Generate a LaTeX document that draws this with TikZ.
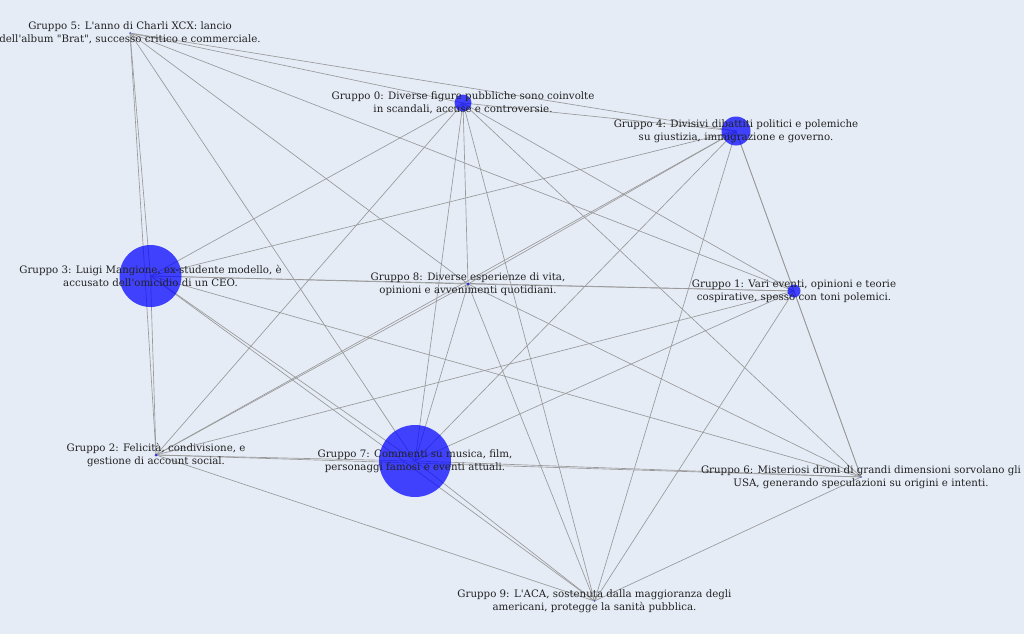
\documentclass[tikz,border=0pt]{standalone}
\usepackage{fontspec}
\setmainfont{DejaVu Serif}[Ligatures=TeXOff]
\definecolor{bgc}{HTML}{E5ECF6}
\definecolor{edgec}{HTML}{999999}
\definecolor{dotc}{HTML}{0000FF}
\definecolor{txtc}{HTML}{222222}
\tikzset{
  edge/.style={draw=edgec, line width=0.65pt},
  dot/.style={circle, fill=dotc, fill opacity=0.72, draw=none, inner sep=0pt},
  lbl/.style={align=center, inner sep=0pt, text=txtc, font=\fontsize{10.25}{13.3}\selectfont}
}
\begin{document}
\begin{tikzpicture}[x=1pt,y=-1pt]
\fill[bgc] (0,0) rectangle (1024,634);
\useasboundingbox (0,0) rectangle (1024,634);
\coordinate (p0) at (463,103);
\coordinate (p1) at (794,291);
\coordinate (p2) at (156,455);
\coordinate (p3) at (150.5,276);
\coordinate (p4) at (736,131);
\coordinate (p5) at (130,33);
\coordinate (p6) at (861,477);
\coordinate (p7) at (415,461);
\coordinate (p8) at (468,284);
\coordinate (p9) at (594.5,601);
\foreach \a/\b in {0/1,0/2,0/3,0/4,0/5,0/6,0/7,0/8,0/9,
                   1/2,1/3,1/4,1/5,1/6,1/7,1/8,1/9,
                   2/3,2/4,2/5,2/6,2/7,2/8,2/9,
                   3/4,3/5,3/6,3/7,3/8,3/9,
                   4/5,4/6,4/7,4/8,4/9,
                   5/7,5/8,
                   6/7,6/8,6/9,
                   7/8,7/9,
                   8/9}
  \draw[edge] (p\a) -- (p\b);
\node[dot, minimum size=17pt] (n0) at (p0) {};
\node[dot, minimum size=13pt] (n1) at (p1) {};
\node[dot, minimum size=3pt] (n2) at (p2) {};
\node[dot, minimum size=62pt] (n3) at (p3) {};
\node[dot, minimum size=29pt] (n4) at (p4) {};
\node[dot, minimum size=1.5pt] (n5) at (p5) {};
\node[dot, minimum size=1.5pt] (n6) at (p6) {};
\node[dot, minimum size=72pt] (n7) at (p7) {};
\node[dot, minimum size=3pt] (n8) at (p8) {};
\node[dot, minimum size=1.5pt] (n9) at (p9) {};
\node[lbl] (l0) at (p0) {Gruppo 0: Diverse figure pubbliche sono coinvolte\\in scandali, accuse e controversie.};
\node[lbl] (l1) at (p1) {Gruppo 1: Vari eventi, opinioni e teorie\\cospirative, spesso con toni polemici.};
\node[lbl] (l2) at (p2) {Gruppo 2: Felicità, condivisione, e\\gestione di account social.};
\node[lbl] (l3) at (p3) {Gruppo 3: Luigi Mangione, ex-studente modello, è\\accusato dell'omicidio di un CEO.};
\node[lbl] (l4) at (p4) {Gruppo 4: Divisivi dibattiti politici e polemiche\\su giustizia, immigrazione e governo.};
\node[lbl] (l5) at (p5) {Gruppo 5: L'anno di Charli XCX: lancio\\dell'album "Brat", successo critico e commerciale.};
\node[lbl] (l6) at (p6) {Gruppo 6: Misteriosi droni di grandi dimensioni sorvolano gli\\USA, generando speculazioni su origini e intenti.};
\node[lbl] (l7) at (p7) {Gruppo 7: Commenti su musica, film,\\personaggi famosi e eventi attuali.};
\node[lbl] (l8) at (p8) {Gruppo 8: Diverse esperienze di vita,\\opinioni e avvenimenti quotidiani.};
\node[lbl] (l9) at (p9) {Gruppo 9: L'ACA, sostenuta dalla maggioranza degli\\americani, protegge la sanità pubblica.};
\end{tikzpicture}
\end{document}
